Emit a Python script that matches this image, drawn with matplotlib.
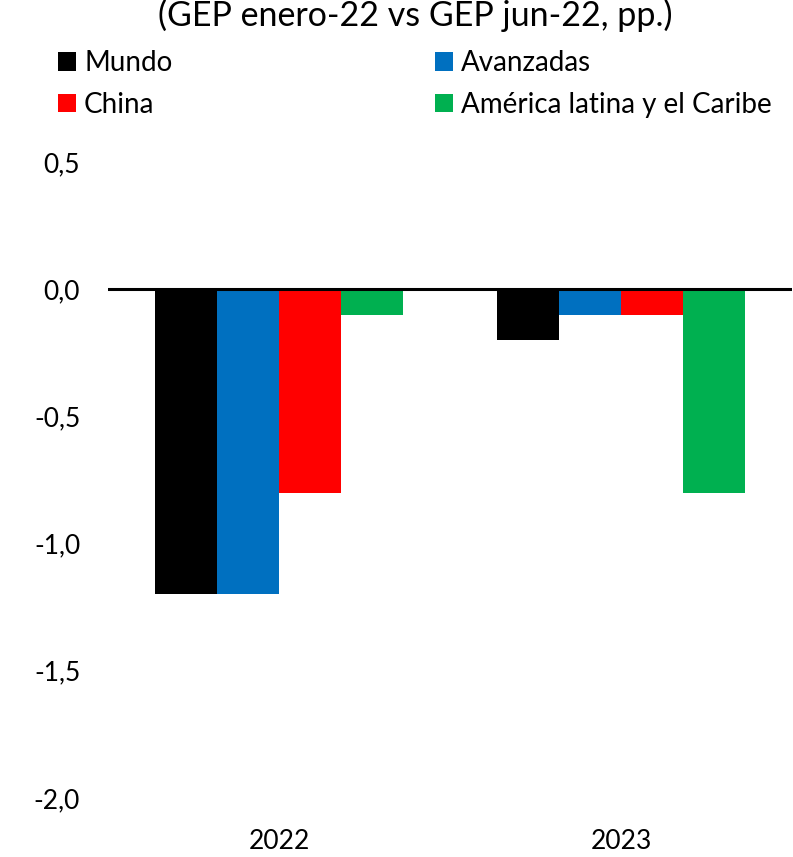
import matplotlib
matplotlib.use("Agg")
import matplotlib.pyplot as plt
import numpy as np

plt.rcParams['font.family'] = ['Lato', 'DejaVu Sans']

years = ['2022', '2023']
series = ['Mundo', 'Avanzadas', 'China', 'América latina y el Caribe']
mundo = [-1.2, -0.2]
avanzadas = [-1.2, -0.1]
china = [-0.8, -0.1]
latam = [-0.1, -0.8]
colors = ['#000000', '#0070C0', '#FF0000', '#00B050']
yticks = [-2.0, -1.5, -1.0, -0.5, 0.0, 0.5]

W, H = 793, 857
fig = plt.figure(figsize=(W / 100, H / 100), dpi=100)
ax = fig.add_axes([108 / W, 1 - 798 / H, 684 / W, (798 - 162) / H])

x = np.arange(len(years))
bw = 0.181
values = [mundo, avanzadas, china, latam]
bars = []
for i, (name, vals, c) in enumerate(zip(series, values, colors)):
    bars.append(ax.bar(x + (i - 1.5) * bw, vals, bw, color=c, label=name, linewidth=0))

ax.axhline(0, color='black', linewidth=2.2, zorder=3)
ax.set_xlim(-0.5, 1.5)
ax.set_ylim(-2.0, 0.5)
ax.set_yticks(yticks)
ax.set_yticklabels([f"{v:.1f}".replace('.', ',') for v in yticks])
ax.set_xticks(x)
ax.set_xticklabels(years)
for s in ax.spines.values():
    s.set_visible(False)
ax.tick_params(axis='both', length=0, labelsize=19)
ax.tick_params(axis='y', pad=20)
ax.tick_params(axis='x', pad=22)

fig.text(415 / W, 1 - 15 / H, '(GEP enero-22 vs GEP jun-22, pp.)',
         ha='center', va='center', fontsize=24.5)

# legend filled by column, so reorder to get Mundo/Avanzadas on the first row
order = [0, 2, 1, 3]
fig.legend([bars[i] for i in order], [series[i] for i in order],
           loc='upper left', bbox_to_anchor=(58 / W, 1 - 50 / H), ncol=2,
           frameon=False, fontsize=20, handlelength=0.65, handleheight=0.65,
           handletextpad=0.29, columnspacing=9.45, labelspacing=0.56,
           borderaxespad=0, borderpad=0)

fig.savefig('out.png', dpi=100)
